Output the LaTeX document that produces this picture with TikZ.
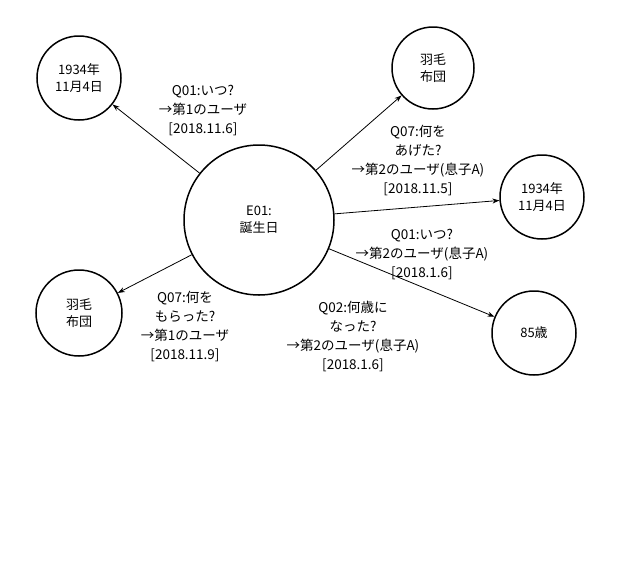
\documentclass[tikz,border=0pt]{standalone}
\usepackage{fontspec}
\usetikzlibrary{arrows.meta}
\setmainfont{Noto Sans CJK JP}
\begin{document}
\begin{tikzpicture}[x=1pt,y=-1pt,
  circ/.style={draw,circle,line width=1.5pt,align=center,font=\fontsize{13}{17}\selectfont,inner sep=0pt},
  lab/.style={align=center,font=\fontsize{13.5}{19}\selectfont},
  arr/.style={-{Stealth[length=7pt,width=5pt]},line width=0.8pt}]
\useasboundingbox (0,0) rectangle (640,587);
\node[circ,minimum size=150] (c) at (259,220) {E01:\\誕生日};
\node[circ,minimum size=84] (tl) at (79,78) {1934年\\11月4日};
\node[circ,minimum size=82] (tr) at (433,68) {羽毛\\布団};
\node[circ,minimum size=84] (r) at (542,197) {1934年\\11月4日};
\node[circ,minimum size=86] (bl) at (79,313) {羽毛\\布団};
\node[circ,minimum size=84] (br) at (534,333) {85歳};
\draw[arr] (c) -- (tl);
\draw[arr] (c) -- (tr);
\draw[arr] (c) -- (r);
\draw[arr] (c) -- (bl);
\draw[arr] (c) -- (br);
\node[lab] (l1) at (203,110) {Q01:いつ?\\→第1のユーザ\\{[2018.11.6]}};
\node[lab] (l2) at (418,160) {Q07:何を\\あげた?\\→第2のユーザ(息子A)\\{[2018.11.5]}};
\node[lab] (l3) at (422,254) {Q01:いつ?\\→第2のユーザ(息子A)\\{[2018.1.6]}};
\node[lab] (l4) at (185,326) {Q07:何を\\もらった?\\→第1のユーザ\\{[2018.11.9]}};
\node[lab] (l5) at (353,336) {Q02:何歳に\\なった?\\→第2のユーザ(息子A)\\{[2018.1.6]}};
\end{tikzpicture}
\end{document}
